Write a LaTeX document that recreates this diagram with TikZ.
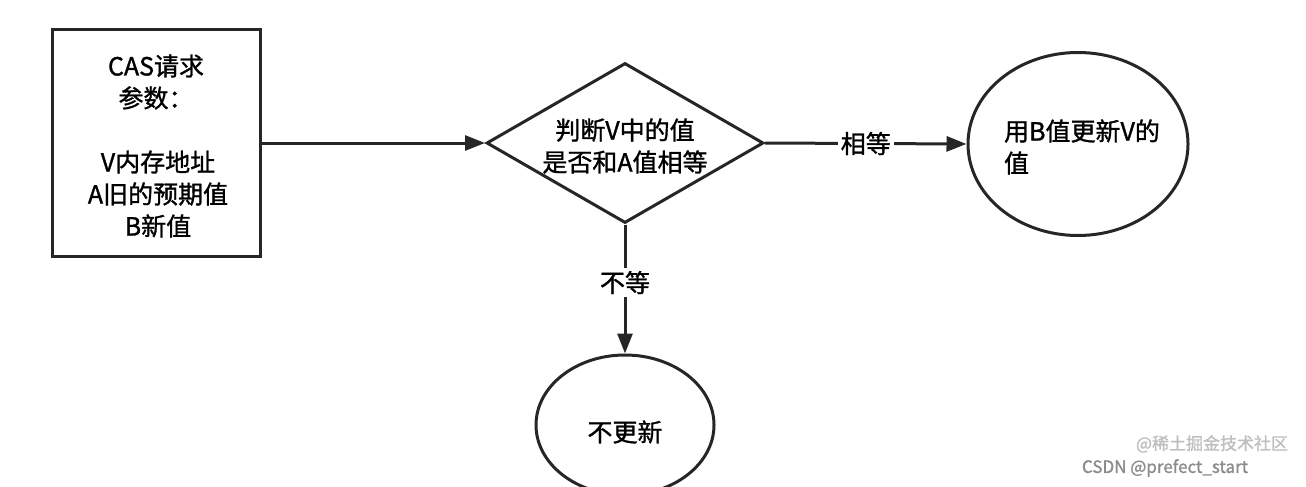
\documentclass[tikz,border=0pt]{standalone}
\usepackage{fontspec}
\setmainfont{Noto Sans CJK SC}[FakeBold=1.2]
\usetikzlibrary{shapes.geometric,arrows.meta}
\begin{document}
\begin{tikzpicture}[x=1pt,y=-1pt,
  ln/.style={line width=3pt,draw=black!85},
  arr/.style={ln,-{Triangle[length=20pt,width=15pt]}},
  txt/.style={font=\fontsize{25}{32}\selectfont,align=center,inner sep=0pt},
  lbl/.style={font=\fontsize{25}{28}\selectfont,fill=white,inner sep=3pt}]
\useasboundingbox (0,0) rectangle (1306,487);
\node[ln,draw,minimum width=208pt,minimum height=227pt,inner sep=0pt] (cas) at (156,143) {};
\node[txt] at (156,82) {CAS请求\\参数：};
\node[txt] (castxt) at (158,194) {V内存地址\\A旧的预期值\\B新值};
\node[ln,draw,diamond,minimum width=277pt,minimum height=160pt,inner sep=0pt,aspect=1.73] (d) at (625,143) {};
\node[txt] at (625,146) {判断V中的值\\是否和A值相等};
\node[ln,draw,ellipse,minimum width=220pt,minimum height=183pt,inner sep=0pt] (e1) at (1078,144) {};
\node[txt,align=left] at (1082,147) {用B值更新V的\\值};
\node[ln,draw,ellipse,minimum width=178pt,minimum height=140pt,inner sep=0pt] (e2) at (625,425) {};
\node[txt] at (625,432) {不更新};
\draw[arr] (cas.east) -- (d.west);
\draw[arr] (d.east) -- node[lbl]{相等} (e1.west);
\draw[arr] (d.south) -- node[lbl,pos=0.45]{不等} (e2.north);
\node[font=\fontsize{17}{20}\selectfont,text=black!25] (w1) at (1212,444) {@稀土掘金技术社区};
\node[font=\fontsize{17}{20}\selectfont,text=black!45] (w2) at (1165,468) {CSDN @prefect\_start};
\end{tikzpicture}
\end{document}
